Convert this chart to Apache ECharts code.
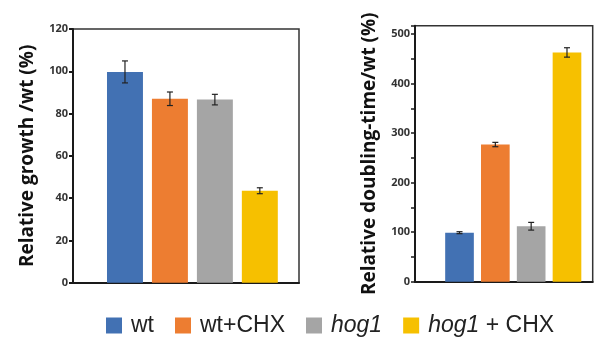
<!DOCTYPE html>
<html>
<head>
<meta charset="utf-8">
<script src="https://cdn.jsdelivr.net/npm/echarts@6/dist/echarts.min.js"></script>
<style>
  html, body { margin: 0; padding: 0; background: #fff; }
  #chart { width: 598px; height: 337px; }
</style>
</head>
<body>
<div id="chart"></div>
<script>
// ---- data ----
const categories = ['wt', 'wt+CHX', 'hog1', 'hog1 + CHX'];
const colors = ['#4271B3', '#ED7D31', '#A5A5A5', '#F6C000'];
const growthMeans = [99.7, 87, 86.6, 43.5];
const growthErr = [5.2, 3.2, 2.5, 1.4];
const doublingMeans = [99, 277, 112, 463];
const doublingErr = [2, 4.4, 7.8, 9.5];
const growthTicks = [0, 20, 40, 60, 80, 100, 120];
const doublingTicks = [0, 100, 200, 300, 400, 500];

const chart = echarts.init(document.getElementById('chart'));

const labelFont = 'Open Sans';
const axisColor = '#1a1a1a';

function barSeries(means, xi, yi, stack) {
  return categories.map((name, i) => ({
    name: name,
    type: 'bar',
    xAxisIndex: xi,
    yAxisIndex: yi,
    stack: stack,
    barWidth: '80%',
    itemStyle: { color: colors[i] },
    emphasis: { disabled: true },
    data: means.map((v, j) => (j === i ? v : '-'))
  }));
}

function errSeries(means, errs, xi, yi) {
  return {
    type: 'custom',
    xAxisIndex: xi,
    yAxisIndex: yi,
    z: 10,
    silent: true,
    data: means.map((m, i) => [i, m - errs[i], m + errs[i]]),
    renderItem: function (params, api) {
      const lo = api.coord([api.value(0), api.value(1)]);
      const hi = api.coord([api.value(0), api.value(2)]);
      const w = 3;
      const st = { stroke: '#222', lineWidth: 1.2 };
      return {
        type: 'group',
        children: [
          { type: 'line', shape: { x1: lo[0], y1: lo[1], x2: hi[0], y2: hi[1] }, style: st },
          { type: 'line', shape: { x1: lo[0] - w, y1: lo[1], x2: lo[0] + w, y2: lo[1] }, style: st },
          { type: 'line', shape: { x1: hi[0] - w, y1: hi[1], x2: hi[0] + w, y2: hi[1] }, style: st }
        ]
      };
    }
  };
}

const hiddenCat = (gi) => ({
  type: 'category', gridIndex: gi, data: categories, show: false
});
const frameCat = (gi) => ({
  type: 'category', gridIndex: gi, data: categories,
  axisLine: { show: true, lineStyle: { color: axisColor, width: 2 } },
  axisTick: { show: false }, axisLabel: { show: false }, splitLine: { show: false }
});

const option = {
  animation: false,
  backgroundColor: '#fff',
  grid: [
    { left: 73, top: 29, width: 226, height: 253.7, show: true, borderColor: '#333', borderWidth: 1.5, backgroundColor: 'transparent' },
    { left: 102.5, top: 29, width: 179.8, height: 253.7 },
    { left: 415, top: 25.7, width: 177.7, height: 256, show: true, borderColor: '#333', borderWidth: 1.5, backgroundColor: 'transparent' },
    { left: 441.6, top: 25.7, width: 143.3, height: 256 }
  ],
  xAxis: [frameCat(0), hiddenCat(1), frameCat(2), hiddenCat(3)],
  yAxis: [
    {
      type: 'value', gridIndex: 0,
      min: growthTicks[0], max: growthTicks[growthTicks.length - 1], interval: 20,
      name: 'Relative growth /wt (%)',
      nameLocation: 'middle', nameGap: 36, nameRotate: 90,
      nameTextStyle: { fontFamily: labelFont, fontWeight: 'bold', fontSize: 19, color: '#111' },
      axisLine: { show: true, lineStyle: { color: axisColor, width: 2 } },
      axisTick: { show: true, length: 4, inside: false, lineStyle: { color: axisColor, width: 2 } },
      axisLabel: { fontFamily: labelFont, fontWeight: 'bold', fontSize: 11, color: '#333', margin: 5 },
      splitLine: { show: false }
    },
    {
      type: 'value', gridIndex: 1,
      min: growthTicks[0], max: growthTicks[growthTicks.length - 1], show: false
    },
    {
      type: 'value', gridIndex: 2,
      min: doublingTicks[0], max: 517, interval: 50,
      name: 'Relative doubling-time/wt (%)',
      nameLocation: 'middle', nameGap: 36, nameRotate: 90,
      nameTextStyle: { fontFamily: labelFont, fontWeight: 'bold', fontSize: 19, color: '#111' },
      axisLine: { show: true, lineStyle: { color: axisColor, width: 2 } },
      axisTick: { show: true, length: 4, inside: false, lineStyle: { color: axisColor, width: 1.5 } },
      axisLabel: {
        fontFamily: labelFont, fontWeight: 'bold', fontSize: 11, color: '#333', margin: 5,
        formatter: (v) => (doublingTicks.indexOf(v) >= 0 ? String(v) : '')
      },
      splitLine: { show: false }
    },
    {
      type: 'value', gridIndex: 3,
      min: doublingTicks[0], max: 517, show: false
    }
  ],
  legend: {
    data: categories,
    left: 101, top: 309,
    icon: 'rect', itemWidth: 16, itemHeight: 16, itemGap: 21,
    selectedMode: false,
    textStyle: {
      fontFamily: 'Liberation Sans', fontSize: 23, color: '#222',
      padding: [0, 0, 0, 4],
      rich: {
        i: { fontFamily: 'Liberation Sans', fontStyle: 'italic', fontSize: 23, color: '#222' },
        n: { fontFamily: 'Liberation Sans', fontSize: 23, color: '#222' }
      }
    },
    formatter: function (name) {
      if (name === 'hog1') return '{i|hog1}';
      if (name === 'hog1 + CHX') return '{i|hog1}{n| + CHX}';
      return name;
    }
  },
  series: [].concat(
    barSeries(growthMeans, 1, 1, 'g'),
    barSeries(doublingMeans, 3, 3, 'd'),
    [errSeries(growthMeans, growthErr, 1, 1), errSeries(doublingMeans, doublingErr, 3, 3)]
  )
};

chart.setOption(option);
</script>
</body>
</html>
